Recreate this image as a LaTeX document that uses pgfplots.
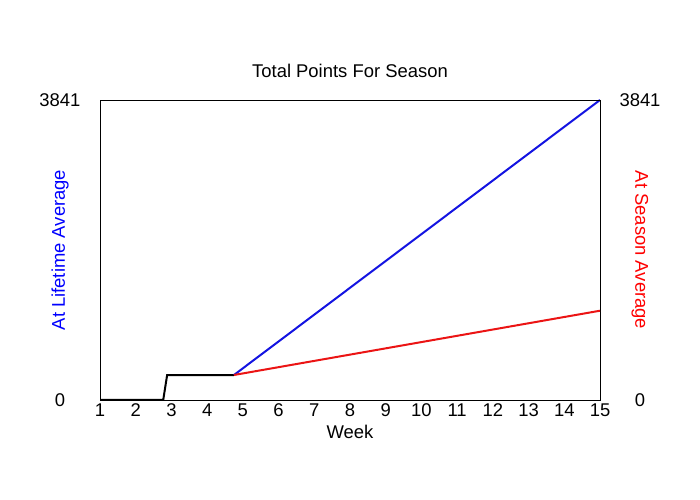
\documentclass[border=0pt]{standalone}
\usepackage{pgfplots}
\pgfplotsset{compat=1.18}
\usepackage{fontspec}
\setmainfont{Liberation Sans}
\definecolor{lblue}{RGB}{20,20,225}
\definecolor{lred}{RGB}{235,20,20}
\definecolor{tblue}{RGB}{0,0,255}
\definecolor{tred}{RGB}{255,0,0}
\newcommand{\chartfont}{\fontsize{18.5}{21}\selectfont}
\begin{document}
\chartfont
\begin{tikzpicture}
\pgfplotsset{
  base/.style={
    at={(100bp,100bp)}, anchor=south west,
    width=500bp, height=300bp, scale only axis,
    xmin=1, xmax=15, ymin=0, ymax=3841,
    major tick length=0,
    /pgf/number format/assume math mode=true,
    ytick={0,3841}, yticklabels={0,3841},
    axis line style={black, line width=0.8bp},
    tick label style={font=\chartfont},
    label style={font=\chartfont},
  }
}
\begin{axis}[base,
  xtick={1,...,15},
  xticklabels={1,2,3,4,5,6,7,8,9,10,11,12,13,14,15},
  xticklabel style={anchor=north, inner sep=0pt, text height=13bp, text depth=0pt, yshift=-3.5bp},
  ytick pos=left,
  yticklabel style={anchor=center, xshift=-40bp},
  xlabel={Week},
  xlabel style={at={(axis description cs:0.5,-0.107)}, anchor=center},
  ylabel={\textcolor{tblue}{At Lifetime Average}},
  ylabel style={at={(axis description cs:-0.08,0.5)}, anchor=center, rotate=0},
  title={Total Points For Season},
  title style={at={(axis description cs:0.5,1.078)}, anchor=center, font=\chartfont},
]
\addplot[black, line width=2bp] coordinates {(1,0) (2.77,0) (2.88,320) (4.75,320)};
\addplot[lblue, line width=2bp] coordinates {(4.75,320) (15,3841)};
\end{axis}
\begin{axis}[base,
  xtick=\empty,
  ytick pos=right,
  yticklabel pos=right,
  yticklabel style={anchor=center, xshift=40bp},
  ylabel={\textcolor{tred}{At Season Average}},
  ylabel style={at={(axis description cs:1.08,0.5)}, anchor=center, rotate=180},
]
\addplot[lred, line width=2bp] coordinates {(4.75,320) (15,1143)};
\end{axis}
\pgfresetboundingbox
\useasboundingbox (0,0) rectangle (700bp,500bp);
\end{tikzpicture}
\end{document}
